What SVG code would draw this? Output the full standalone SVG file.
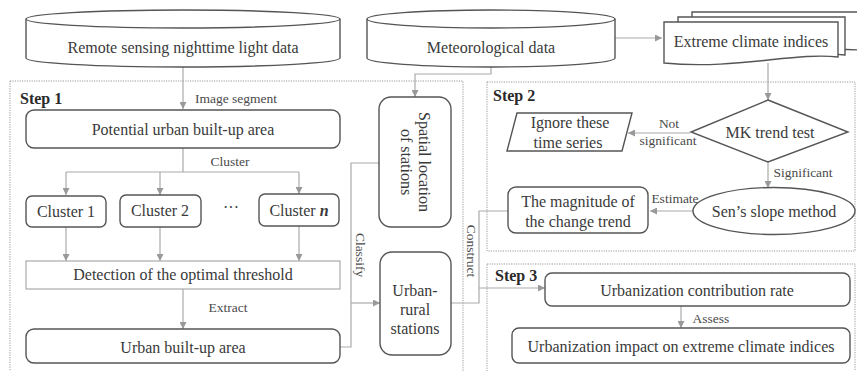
<svg xmlns="http://www.w3.org/2000/svg" width="857" height="371" viewBox="0 0 857 371">
<style>
.t{font-family:"Liberation Serif","Times New Roman",serif;font-size:16px;fill:#3a3a3a;text-anchor:middle}
.l{font-family:"Liberation Serif","Times New Roman",serif;font-size:13.5px;fill:#4a4a4a;text-anchor:middle}
.b{font-family:"Liberation Serif","Times New Roman",serif;font-size:16px;font-weight:bold;fill:#2a2a2a}
.n{fill:#fff;stroke:#555;stroke-width:1.4}
.s{fill:none;stroke:#999;stroke-width:1;stroke-dasharray:1.2,1.2}
.c{fill:none;stroke:#aaa;stroke-width:1.2}
</style>
<defs>
<marker id="a" viewBox="0 0 10 10" refX="10" refY="5" markerWidth="7" markerHeight="7" orient="auto" markerUnits="userSpaceOnUse">
<path d="M0,0 L10,5 L0,10 Z" fill="#999"/>
</marker>
</defs>
<rect width="857" height="371" fill="#fff"/>
<g id="steps">
<rect class="s" x="10" y="81" width="453" height="300"/>
<rect class="s" x="487" y="82" width="368" height="169"/>
<rect class="s" x="487" y="264" width="368" height="120"/>
<text class="b" x="20" y="104">Step 1</text>
<text class="b" x="493" y="101">Step 2</text>
<text class="b" x="495" y="281">Step 3</text>
</g>
<g id="connectors">
<path class="c" d="M183,67 V109" marker-end="url(#a)"/>
<path class="c" d="M491,67 V74 H415 V97" marker-end="url(#a)"/>
<path class="c" d="M615,38 H662" marker-end="url(#a)"/>
<path class="c" d="M183,148 V172 M66,172 H299"/>
<path class="c" d="M66,172 V195" marker-end="url(#a)"/>
<path class="c" d="M160,172 V195" marker-end="url(#a)"/>
<path class="c" d="M299,172 V194" marker-end="url(#a)"/>
<path class="c" d="M66,227 V261" marker-end="url(#a)"/>
<path class="c" d="M160,227 V261" marker-end="url(#a)"/>
<path class="c" d="M299,226 V261" marker-end="url(#a)"/>
<path class="c" d="M183,289 V329" marker-end="url(#a)"/>
<path class="c" d="M379,163 H351 V347 H340"/>
<path class="c" d="M351,303 H380" marker-end="url(#a)"/>
<path class="c" d="M451,303 H479 V211 H508"/>
<path class="c" d="M479,288 H545" marker-end="url(#a)"/>
<path class="c" d="M768,63 V100" marker-end="url(#a)"/>
<path class="c" d="M690,133 H628" marker-end="url(#a)"/>
<path class="c" d="M768,162 V188" marker-end="url(#a)"/>
<path class="c" d="M693,211 H650" marker-end="url(#a)"/>
<path class="c" d="M681,306 V328" marker-end="url(#a)"/>
<text class="l" x="236" y="103">Image segment</text>
<text class="l" x="230" y="166">Cluster</text>
<text class="l" x="228" y="312">Extract</text>
<text class="l" transform="translate(356,255) rotate(90)">Classify</text>
<text class="l" transform="translate(467,251) rotate(90)">Construct</text>
<text class="l" x="669" y="128">Not</text>
<text class="l" x="668" y="145">significant</text>
<text class="l" x="803" y="177">Significant</text>
<text class="l" x="675" y="203">Estimate</text>
<text class="l" x="711" y="323">Assess</text>
</g>
<g id="remote-sensing">
<path class="n" d="M26,19 V58 A157,9 0 0,0 340,58 V19"/>
<ellipse class="n" cx="183" cy="19" rx="157" ry="9"/>
<text class="t" x="183" y="53">Remote sensing nighttime light data</text>
</g>
<g id="meteorological">
<path class="n" d="M367,19 V58 A124,9 0 0,0 615,58 V19"/>
<ellipse class="n" cx="491" cy="19" rx="124" ry="9"/>
<text class="t" x="491" y="53">Meteorological data</text>
</g>
<g id="extreme-indices">
<path class="n" d="M692,12 H858 V50 C820,46 760,62 692,56 Z"/>
<path class="n" d="M678,17 H845 V55 C805,50 745,67 678,61 Z"/>
<path class="n" d="M664,22 H838 V57 C795,52 735,70 664,63 Z"/>
<text class="t" x="751" y="47">Extreme climate indices</text>
</g>
<g id="potential">
<rect class="n" x="26" y="110" width="314" height="38" rx="8"/>
<text class="t" x="183" y="135">Potential urban built-up area</text>
</g>
<g id="cluster1">
<rect class="n" x="26" y="196" width="80" height="31" rx="6"/>
<text class="t" x="66" y="217">Cluster 1</text>
</g>
<g id="cluster2">
<rect class="n" x="120" y="195" width="81" height="32" rx="6"/>
<text class="t" x="160" y="216">Cluster 2</text>
</g>
<text class="t" x="231" y="213">···</text>
<g id="clustern">
<rect class="n" x="259" y="194" width="80" height="32" rx="6"/>
<text class="t" x="299" y="216">Cluster <tspan font-style="italic" font-weight="bold">n</tspan></text>
</g>
<g id="detection">
<rect x="26" y="261" width="314" height="28" fill="#fff" stroke="#aaa" stroke-width="1.2"/>
<text class="t" x="183" y="280">Detection of the optimal threshold</text>
</g>
<g id="urban-area">
<rect class="n" x="26" y="329" width="314" height="34" rx="8"/>
<text class="t" x="183" y="353">Urban built-up area</text>
</g>
<g id="spatial">
<rect class="n" x="379" y="97" width="72" height="130" rx="12"/>
<text class="t" transform="translate(415,162) rotate(90)"><tspan x="0" y="-4">Spatial location</tspan><tspan x="0" y="14">of stations</tspan></text>
</g>
<g id="urban-rural">
<rect class="n" x="380" y="252" width="71" height="103" rx="12"/>
<text class="t" x="415" y="296">Urban-</text>
<text class="t" x="415" y="315">rural</text>
<text class="t" x="415" y="334">stations</text>
</g>
<g id="ignore">
<path class="n" d="M517,113 H632 L622,151 H507 Z"/>
<text class="t" x="570" y="128">Ignore these</text>
<text class="t" x="568" y="148">time series</text>
</g>
<g id="mk">
<path class="n" d="M768,100 L848,132 L768,162 L691,132 Z"/>
<text class="t" x="770" y="138">MK trend test</text>
</g>
<g id="sens">
<ellipse class="n" cx="774" cy="211" rx="81" ry="23.5"/>
<text class="t" x="774" y="217">Sen’s slope method</text>
</g>
<g id="magnitude">
<rect class="n" x="508" y="187" width="140" height="46" rx="8"/>
<text class="t" x="578" y="207">The magnitude of</text>
<text class="t" x="578" y="227">the change trend</text>
</g>
<g id="contribution">
<rect class="n" x="545" y="273" width="305" height="33" rx="7"/>
<text class="t" x="697" y="296">Urbanization contribution rate</text>
</g>
<g id="impact">
<rect class="n" x="512" y="328" width="338" height="35" rx="7"/>
<text class="t" x="681" y="352">Urbanization impact on extreme climate indices</text>
</g>
</svg>
